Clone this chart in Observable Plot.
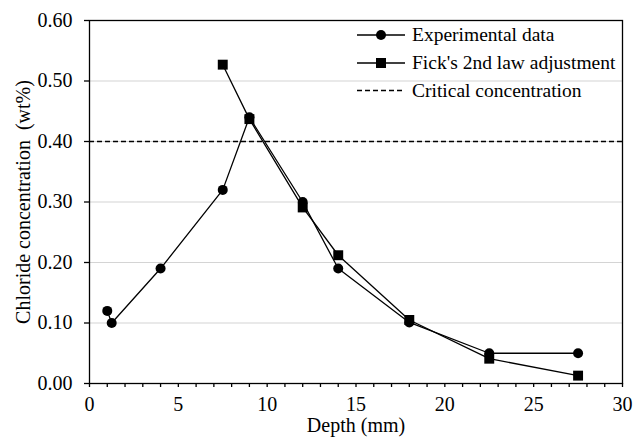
<!DOCTYPE html>
<html>
<head>
<meta charset="utf-8">
<script src="https://cdn.jsdelivr.net/npm/d3@7"></script>
<script src="https://cdn.jsdelivr.net/npm/@observablehq/plot@0.6"></script>
<style>
  html, body { margin: 0; padding: 0; background: #fff; }
  #wrap { position: relative; width: 642px; height: 438px; }
  #legend { position: absolute; left: 0; top: 0; }
  #wrap svg, #wrap svg text { font-family: "Liberation Serif", serif !important; }
</style>
</head>
<body>
<div id="wrap"></div>
<script>
// Experimental data
const expDepth = [1, 1.25, 4, 7.5, 9, 12, 14, 18, 22.5, 27.5];
const expConc  = [0.12, 0.10, 0.19, 0.32, 0.44, 0.30, 0.19, 0.101, 0.05, 0.05];
// Fick's 2nd law adjustment
const fickDepth = [7.5, 9, 12, 14, 18, 22.5, 27.5];
const fickConc  = [0.527, 0.437, 0.291, 0.212, 0.105, 0.041, 0.013];
// Critical concentration
const criticalConc = 0.40;
// Axis ticks
const yTicks = [0, 0.1, 0.2, 0.3, 0.4, 0.5, 0.6];
const gridTicks = [0.1, 0.2, 0.3, 0.4, 0.5];
const xTicks = d3.range(0, 31, 1);
const legendLabels = ["Experimental data", "Fick's 2nd law adjustment", "Critical concentration"];

const exp = expDepth.map((d, i) => ({depth: d, conc: expConc[i]}));
const fick = fickDepth.map((d, i) => ({depth: d, conc: fickConc[i]}));

const chart = Plot.plot({
  width: 642,
  height: 438,
  marginLeft: 89,
  marginRight: 20,
  marginTop: 20,
  marginBottom: 55,
  style: "font-family: 'Liberation Serif', serif; font-size: 20px; color: black; background: white;",
  x: {domain: [0, 30]},
  y: {domain: [0, 0.6]},
  marks: [
    Plot.ruleY(gridTicks, {stroke: "#d4d4d4", strokeWidth: 1.2}),
    Plot.ruleY([criticalConc], {stroke: "black", strokeWidth: 1.3, strokeDasharray: "5,3"}),
    Plot.frame({stroke: "black", strokeWidth: 1.3}),
    Plot.axisX({
      ticks: xTicks,
      tickFormat: d => d % 5 === 0 ? String(d) : "",
      tickSize: 4,
      tickPadding: 9,
      strokeWidth: 1.3,
      fontSize: 20,
      label: "Depth (mm)",
      labelAnchor: "center",
      labelArrow: "none",
      labelOffset: 48
    }),
    Plot.axisY({
      ticks: yTicks,
      tickFormat: d3.format(".2f"),
      tickSize: 5,
      tickPadding: 12,
      strokeWidth: 1.3,
      fontSize: 20,
      label: "Chloride concentration\u00a0\u00a0(wt%)",
      labelAnchor: "center",
      labelArrow: "none",
      labelOffset: 74
    }),
    Plot.line(exp, {x: "depth", y: "conc", stroke: "black", strokeWidth: 1.3}),
    Plot.line(fick, {x: "depth", y: "conc", stroke: "black", strokeWidth: 1.3}),
    Plot.dot(exp, {x: "depth", y: "conc", r: 5, fill: "black", stroke: "none"}),
    Plot.dot(fick, {x: "depth", y: "conc", symbol: "square", r: 5.6, fill: "black", stroke: "none"})
  ]
});

const wrap = document.getElementById("wrap");
wrap.appendChild(chart);

// Legend overlay
const leg = d3.select(wrap).append("svg")
  .attr("id", "legend")
  .attr("width", 642).attr("height", 438)
  .style("font-size", "19.5px");
const rows = [35, 63, 90.5];
const x0 = 357, x1 = 405, xm = 381, xt = 412;
legendLabels.forEach((lab, i) => {
  const g = leg.append("g");
  g.append("line").attr("x1", x0).attr("x2", x1).attr("y1", rows[i]).attr("y2", rows[i])
    .attr("stroke", "black").attr("stroke-width", 1.3)
    .attr("stroke-dasharray", i === 2 ? "5,3" : null);
  if (i === 0) g.append("circle").attr("cx", xm).attr("cy", rows[i]).attr("r", 5).attr("fill", "black");
  if (i === 1) g.append("rect").attr("x", xm - 5).attr("y", rows[i] - 5).attr("width", 10).attr("height", 10).attr("fill", "black");
  g.append("text").attr("x", xt).attr("y", rows[i]).attr("dy", "0.33em").text(lab);
});
</script>
</body>
</html>
